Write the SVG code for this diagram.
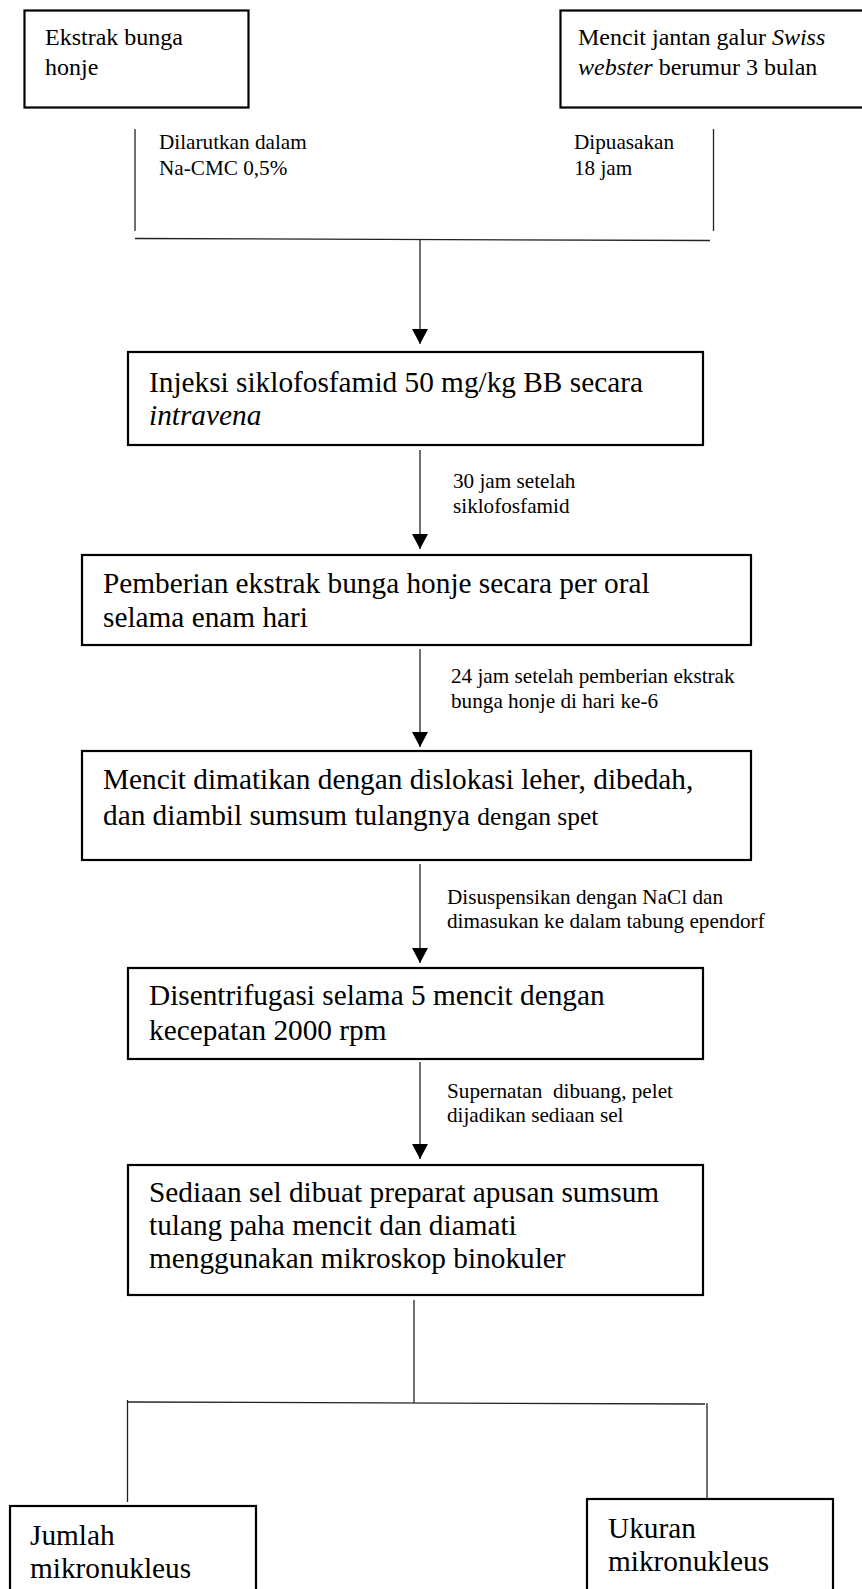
<svg xmlns="http://www.w3.org/2000/svg" width="862" height="1589" viewBox="0 0 862 1589">
<style>
.box{fill:#fff;stroke:#000;stroke-width:2.2}
.con{fill:none;stroke:#222;stroke-width:1.3}
.t{font-family:"Liberation Serif","Times New Roman",serif;fill:#000}
.top{font-size:24px}
.big{font-size:29.3px}
.lbl{font-size:21.2px}
.it{font-style:italic}
</style>
<defs>
<marker id="ah" viewBox="0 0 15 16" refX="15" refY="8" markerWidth="15" markerHeight="16" markerUnits="userSpaceOnUse" orient="auto">
<path d="M0,0 L15,8 L0,16 Z" fill="#000"/>
</marker>
</defs>
<rect width="862" height="1589" fill="#fff"/>
<g id="connectors">
<line class="con" x1="135" y1="129" x2="135" y2="231"/>
<line class="con" x1="713.5" y1="129" x2="713.5" y2="231"/>
<line class="con" x1="135" y1="238.5" x2="710" y2="240.5"/>
<line class="con" x1="420" y1="240" x2="420" y2="344" marker-end="url(#ah)"/>
<line class="con" x1="420" y1="450" x2="420" y2="549" marker-end="url(#ah)"/>
<line class="con" x1="420" y1="649" x2="420" y2="747" marker-end="url(#ah)"/>
<line class="con" x1="420" y1="864" x2="420" y2="963" marker-end="url(#ah)"/>
<line class="con" x1="420" y1="1062" x2="420" y2="1159" marker-end="url(#ah)"/>
<line class="con" x1="414" y1="1300" x2="414" y2="1403"/>
<line class="con" x1="127" y1="1402" x2="705" y2="1404"/>
<line class="con" x1="127.5" y1="1400" x2="127.5" y2="1502"/>
<line class="con" x1="707" y1="1403" x2="707" y2="1499"/>
</g>
<g id="label1">
<text class="t lbl" x="159" y="149">Dilarutkan dalam</text>
<text class="t lbl" x="159" y="175">Na-CMC 0,5%</text>
</g>
<g id="label2">
<text class="t lbl" x="574" y="149">Dipuasakan</text>
<text class="t lbl" x="574" y="175">18 jam</text>
</g>
<g id="label3">
<text class="t lbl" x="453" y="488">30 jam setelah</text>
<text class="t lbl" x="453" y="513">siklofosfamid</text>
</g>
<g id="label4">
<text class="t lbl" x="451" y="683">24 jam setelah pemberian ekstrak</text>
<text class="t lbl" x="451" y="708">bunga honje di hari ke-6</text>
</g>
<g id="label5">
<text class="t lbl" x="447" y="904">Disuspensikan dengan NaCl dan</text>
<text class="t lbl" x="447" y="928">dimasukan ke dalam tabung ependorf</text>
</g>
<g id="label6">
<text class="t lbl" x="447" y="1098" xml:space="preserve">Supernatan  dibuang, pelet</text>
<text class="t lbl" x="447" y="1122">dijadikan sediaan sel</text>
</g>
<g id="nodeA">
<rect class="box" x="24.5" y="10.5" width="224" height="97"/>
<text class="t top" x="45" y="45">Ekstrak bunga</text>
<text class="t top" x="45" y="75">honje</text>
</g>
<g id="nodeB">
<rect class="box" x="560.5" y="10.5" width="320" height="97"/>
<text class="t top" x="578" y="45">Mencit jantan galur <tspan class="it">Swiss</tspan></text>
<text class="t top" x="578" y="75"><tspan class="it">webster</tspan> berumur 3 bulan</text>
</g>
<g id="nodeC">
<rect class="box" x="128" y="352" width="575" height="93"/>
<text class="t big" x="149" y="392">Injeksi siklofosfamid 50 mg/kg BB secara</text>
<text class="t big it" x="149" y="425">intravena</text>
</g>
<g id="nodeD">
<rect class="box" x="82" y="555" width="669" height="90"/>
<text class="t big" x="103" y="593">Pemberian ekstrak bunga honje secara per oral</text>
<text class="t big" x="103" y="627">selama enam hari</text>
</g>
<g id="nodeE">
<rect class="box" x="82" y="751" width="669" height="109"/>
<text class="t big" x="103" y="789">Mencit dimatikan dengan dislokasi leher, dibedah,</text>
<text class="t big" x="103" y="825" xml:space="preserve">dan diambil sumsum tulangnya <tspan style="font-size:25.5px">dengan spet</tspan></text>
</g>
<g id="nodeF">
<rect class="box" x="128" y="968" width="575" height="91"/>
<text class="t big" x="149" y="1005">Disentrifugasi selama 5 mencit dengan</text>
<text class="t big" x="149" y="1040">kecepatan 2000 rpm</text>
</g>
<g id="nodeG">
<rect class="box" x="128" y="1165" width="575" height="130"/>
<text class="t big" x="149" y="1202">Sediaan sel dibuat preparat apusan sumsum</text>
<text class="t big" x="149" y="1235">tulang paha mencit dan diamati</text>
<text class="t big" x="149" y="1268">menggunakan mikroskop binokuler</text>
</g>
<g id="nodeH">
<rect class="box" x="10" y="1506" width="246" height="100"/>
<text class="t big" x="30" y="1545">Jumlah</text>
<text class="t big" x="30" y="1578">mikronukleus</text>
</g>
<g id="nodeI">
<rect class="box" x="587" y="1499" width="246" height="110"/>
<text class="t big" x="608" y="1538">Ukuran</text>
<text class="t big" x="608" y="1571">mikronukleus</text>
</g>
</svg>
